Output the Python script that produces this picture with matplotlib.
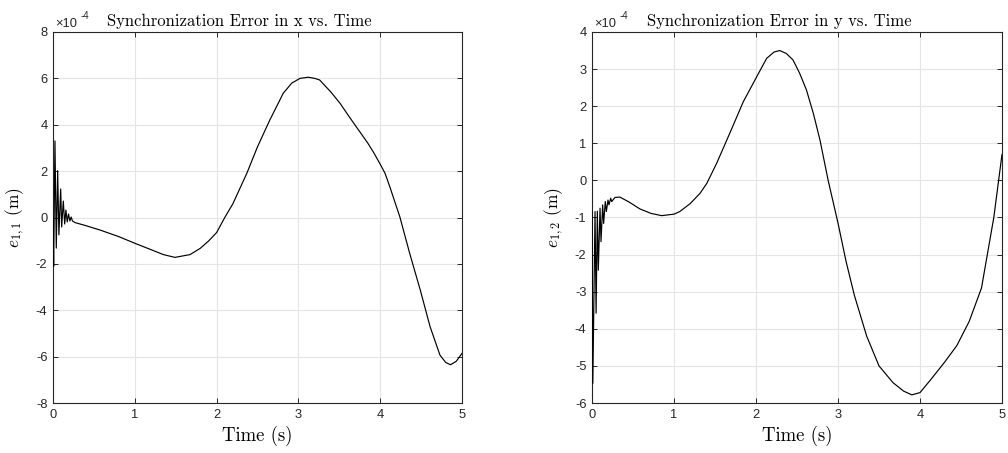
import matplotlib
matplotlib.use("Agg")
import matplotlib.pyplot as plt

# ---- data (values in units of 1e-4 m) ----
t_x = [0.000, 0.008, 0.024, 0.040, 0.057, 0.072, 0.094, 0.106, 0.126, 0.143,
       0.158, 0.174, 0.190, 0.206, 0.222, 0.238, 0.27, 0.4, 0.575, 0.8,
       1.0, 1.186, 1.35, 1.49, 1.675, 1.8, 1.9, 2.0, 2.1, 2.2,
       2.37, 2.5, 2.65, 2.815, 2.92, 3.02, 3.12, 3.2, 3.26, 3.4,
       3.51, 3.63, 3.75, 3.85, 3.92, 4.0, 4.06, 4.12, 4.24, 4.36, 4.49,
       4.61, 4.73, 4.80, 4.86, 4.93, 5.0]
e_x = [0.0, -2.1, 3.3, -1.32, 2.02, -0.75, 1.23, -0.41, 0.71, -0.28,
       0.32, -0.19, 0.15, -0.15, 0.02, -0.15, -0.22, -0.35, -0.54, -0.82,
       -1.11, -1.37, -1.6, -1.72, -1.6, -1.33, -1.02, -0.65, 0.0, 0.6,
       1.91, 3.05, 4.2, 5.36, 5.8, 6.0, 6.05, 6.0, 5.93, 5.4,
       4.92, 4.3, 3.70, 3.2, 2.8, 2.3, 1.9, 1.3, 0.03, -1.54, -3.13,
       -4.71, -5.93, -6.25, -6.35, -6.2, -5.86]

t_y = [0.0, 0.01, 0.037, 0.05, 0.065, 0.077, 0.098, 0.11, 0.13, 0.142,
       0.162, 0.175, 0.195, 0.207, 0.228, 0.24, 0.28, 0.34, 0.45, 0.585,
       0.72, 0.85, 1.0, 1.07, 1.195, 1.317, 1.40, 1.52, 1.68, 1.845,
       2.01, 2.13, 2.22, 2.29, 2.37, 2.45, 2.53, 2.615, 2.70, 2.78,
       2.88, 3.0, 3.1, 3.2, 3.35, 3.5, 3.67, 3.8, 3.9, 4.0,
       4.12, 4.3, 4.45, 4.6, 4.75, 4.9, 5.0]
e_y = [-0.85, -5.47, -0.84, -3.58, -0.83, -2.42, -0.75, -1.65, -0.66, -1.16,
       -0.57, -0.84, -0.53, -0.66, -0.48, -0.57, -0.46, -0.45, -0.58, -0.77,
       -0.89, -0.95, -0.91, -0.84, -0.63, -0.35, -0.08, 0.46, 1.27, 2.12,
       2.80, 3.29, 3.46, 3.50, 3.42, 3.25, 2.9, 2.44, 1.8, 1.09,
       0.0, -1.15, -2.2, -3.1, -4.2, -5.0, -5.45, -5.68, -5.78, -5.72,
       -5.4, -4.9, -4.45, -3.8, -2.9, -1.0, 0.7]

x_ticks = [0, 1, 2, 3, 4, 5]
yticks_x = [-8, -6, -4, -2, 0, 2, 4, 6, 8]
yticks_y = [-6, -5, -4, -3, -2, -1, 0, 1, 2, 3, 4]

titles = ["Synchronization Error in x vs. Time", "Synchronization Error in y vs. Time"]
ylabels = [r"$e_{1,1}$ (m)", r"$e_{1,2}$ (m)"]
xlabel = "Time (s)"

plt.rcParams["mathtext.fontset"] = "cm"
plt.rcParams["axes.unicode_minus"] = False
plt.rcParams["font.family"] = ["Liberation Sans", "DejaVu Sans"]

W, H = 1008, 453
fig = plt.figure(figsize=(W / 100, H / 100), dpi=100)

def make_axes(left_px, right_px, t, e, yticks, title, ylabel):
    top_px, bot_px = 32, 403
    ax = fig.add_axes([left_px / W, 1 - bot_px / H, (right_px - left_px) / W, (bot_px - top_px) / H])
    ax.plot(t, e, color="black", lw=0.85, zorder=3)
    ax.set_xlim(0, 5)
    ax.set_ylim(yticks[0], yticks[-1])
    ax.set_xticks(x_ticks)
    ax.set_yticks(yticks)
    ax.set_xticklabels([str(v) for v in x_ticks])
    ax.set_yticklabels([str(v) for v in yticks])
    ax.grid(True, color="#e5e5e5", lw=0.8, zorder=0)
    ax.set_axisbelow(True)
    for s in ax.spines.values():
        s.set_color("#262626")
        s.set_linewidth(0.8)
    ax.tick_params(direction="in", length=3.5, width=0.7, color="#262626",
                   labelsize=9.3, labelcolor="#262626", top=True, right=True, pad=4)
    ax.set_title(title, fontfamily="cmr10", fontsize=12, pad=4,
                 x=0.5 - 18.0 / (right_px - left_px))
    ax.set_xlabel(xlabel, fontfamily="cmr10", fontsize=13.5, labelpad=4)
    ax.set_ylabel(ylabel, fontfamily="cmr10", fontsize=12.5, labelpad=6)
    # exponent label
    ax.text(0.005, 1.006, "×10", transform=ax.transAxes, fontsize=9.3,
            color="#262626", ha="left", va="bottom")
    ax.text(0.067, 1.03, "-4", transform=ax.transAxes, fontsize=7,
            color="#262626", ha="left", va="bottom")
    return ax

make_axes(53, 462, t_x, e_x, yticks_x, titles[0], ylabels[0])
make_axes(592, 1002, t_y, e_y, yticks_y, titles[1], ylabels[1])

fig.savefig("out.png", dpi=100)
